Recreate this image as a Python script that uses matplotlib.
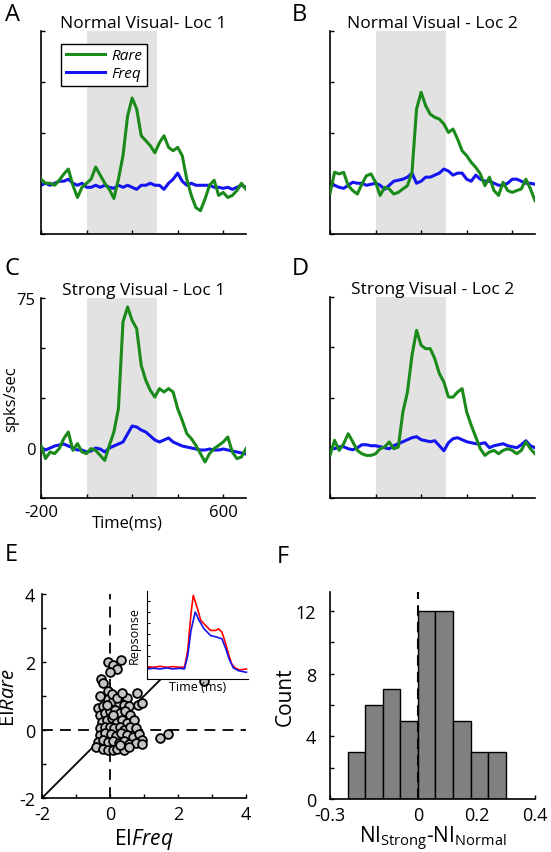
import numpy as np
import matplotlib
matplotlib.use("Agg")
import matplotlib.pyplot as plt

plt.rcParams['font.family'] = ['Open Sans', 'DejaVu Sans']
plt.rcParams['mathtext.fontset'] = 'custom'
plt.rcParams['mathtext.rm'] = 'Open Sans'
plt.rcParams['mathtext.it'] = 'Open Sans:italic'

# time axis of the PSTHs (ms)
t = np.arange(-200, 701, 20)

# A: normal visual, loc 1
a_rare = [2, 0, 0, -1, 1.5, 4.5, 7, -1, -7, -2, 0, 2, 8, 4, 0, -3, -7.5, 2, 13.6, 33,
          42, 36.6, 23.4, 21, 18.5, 15, 20, 23.4, 17.7, 16, 17.7, 13.6, 2, -6, -12, -13.5,
          -7.8, -1, 1.5, -6, -4.5, -7, -6, -3.6, 0, -3]
a_freq = [-1, 0, -1, 0, 1, 1, 2, 0, -1, 0, -2, -2, -1, -2, -1, -2, -2.5, -1, -2, -1,
          -2, -3, -1, -1, 0, -1, -1, -3, 0, 2, 5, 1, -1, 0, -1, -1, -1, -1, -2, -2,
          -2.5, -2, -3, -2, -1, -2]
# B: normal visual, loc 2
b_rare = [-5, 5.4, 4.6, 5.4, -1.2, -3.6, -5.3, -0.4, 3.7, 4.6, 0.5, -6, -2, -2.8, -5.3, -4.5,
          -2.8, -1.2, 5.4, 36.6, 44.8, 38.2, 34, 32.5, 31.6, 29.2, 25, 26.7, 21.8, 16, 13.6,
          10.3, 7.8, 4.6, -1.2, 3, -3.6, -6, 0.5, -3.6, -4.5, -3.6, -2.8, 2, -2.8, -8.6]
b_freq = [-1, -1, -2, -2.5, -1, 0.5, 0, 0, -1, -0.5, 0, -1, -3, -1, 1, 1.5, 2, 3, 5, 0,
          1, 3, 3, 4, 5, 7, 6, 4, 5, 5, 2, 1, 4, 2, 1, 1, 0, -1, -1, 0,
          2, 2, 1, 0, 0, -0.5]
# C: strong visual, loc 1
c_rare = [1.3, -5.3, -2, -2.8, -0.3, 4.7, 8, -1.2, 2.2, -2, -2.8, -0.3, -1.2, -3.7, -6.2, 1.3,
          8, 19.7, 63, 70.5, 63.8, 59.7, 41.3, 33.8, 28.8, 25.5, 29.7, 28, 29.7, 28, 19.7,
          13.8, 7.2, 4.7, 1.3, -2.8, -7, -2.8, -0.3, 1.3, 3, 5.5, -2, -5.3, -4.5, -0.3]
c_freq = [0, -1, 0, 1, 1.5, 2, 1, 0, -1, -1, -2, -1.5, 0, -0.5, -2, 0, 1, 2, 3, 7,
          11, 10.5, 9, 8, 6, 4, 3, 4, 5, 3, 2, 1, 0.5, 0, -0.5, -1, -1, -0.5, -1, -1,
          -0.5, -1, -1.5, -2, -2.5, -3]
# D: strong visual, loc 2
d_rare = [-3.8, 3.7, -1.3, 2, 7, 2.9, -1.3, -3, -3.8, -3.8, -3, -0.5, 0.4, 2.9, -0.5, 0.4,
          17.8, 27.7, 46, 58.4, 51, 49.3, 49.3, 44.3, 36.9, 32.7, 25.2, 25.2, 27.7, 29.4, 17.8,
          11.2, 5.3, -0.5, -3.8, -2.1, -1.3, -3, -1.3, -0.5, -1.3, -3, -1.3, 2.9, -0.5, -3]
d_freq = [0, -0.5, 0.5, 0.5, -0.5, -1, 0, 1.5, 1.5, 1, 1, 0.5, 0, -0.5, 1, 2, 3, 4, 5, 5.5,
          4, 3.5, 3, 3.5, 1, -1.5, 2.5, 4.5, 5, 4, 3, 2.5, 2, 2, 2.5, 0, 1, 1.5, 2, 1,
          0.5, 0, 1.5, 3.5, 1, 0]

panel_titles = ['Normal Visual- Loc 1', 'Normal Visual - Loc 2',
                'Strong Visual - Loc 1', 'Strong Visual - Loc 2']

# E: enhancement index scatter
ei_freq = [-0.07, 0.1, 0.2, 0.32, 0.0, -0.26, -0.22, -0.07, 0.78, 0.49, 0.83, 0.93, 1.46, 1.71, 2.75,
           -0.35, -0.2, -0.05, 0.1, 0.25, 0.4, 0.55, -0.3, -0.15, 0.0, 0.15, 0.3, 0.45, 0.6,
           -0.25, -0.1, 0.05, 0.2, 0.35, 0.5, 0.7, -0.3, -0.15, 0.0, 0.12, 0.28, 0.42, 0.58, 0.75,
           -0.3, -0.15, 0.02, 0.18, 0.33, 0.5, 0.68, 0.85, 0.95, -0.35, -0.2, -0.05, 0.1, 0.25,
           0.4, 0.55, 0.75, 0.95, -0.4, -0.2, -0.05, 0.1, 0.22, 0.4, 0.55, -0.3, 0.05, 0.2,
           -0.1, 0.35, 0.08, 0.3]
ei_rare = [2.0, 1.92, 1.8, 2.05, 1.7, 1.49, 1.37, 1.14, 1.09, 0.93, 0.75, 0.78, -0.24, -0.13, 1.45,
           0.65, 0.7, 0.9, 0.85, 0.8, 0.75, 0.7, 0.45, 0.5, 0.55, 0.6, 0.5, 0.55, 0.45,
           0.25, 0.3, 0.35, 0.25, 0.3, 0.2, 0.3, 0.05, 0.1, 0.1, 0.05, 0.08, 0.0, 0.1, 0.05,
           -0.15, -0.1, -0.12, -0.18, -0.1, -0.15, -0.2, -0.12, -0.3, -0.35, -0.3, -0.35, -0.32, -0.38,
           -0.32, -0.4, -0.38, -0.42, -0.5, -0.55, -0.6, -0.6, -0.55, -0.6, -0.5, 1.0, 1.05, 0.95,
           0.75, 1.1, 0.45, -0.45]

# E inset: population response
ins_t_red = [20, 40, 60, 80, 100, 120, 135, 145, 155, 162, 175, 185, 200, 215, 230, 240, 250,
             260, 270, 280, 290, 305, 325]
ins_red = [52, 50, 53, 50, 52, 50, 50, 100, 210, 265, 225, 190, 175, 160, 160, 165, 155,
           125, 90, 60, 48, 42, 45]
ins_t_blue = [20, 40, 60, 80, 100, 120, 135, 145, 155, 168, 180, 195, 215, 235, 250, 262,
              272, 285, 300, 325]
ins_blue = [45, 47, 45, 48, 45, 47, 45, 85, 160, 215, 190, 165, 145, 140, 135, 105,
            75, 48, 40, 35]

# F: histogram of NI difference
bin_edges = [-0.24, -0.18, -0.12, -0.06, 0.0, 0.06, 0.12, 0.18, 0.24, 0.30]
counts = [3, 6, 7, 5, 12, 12, 5, 3, 3]

green = '#1a8a1a'
blue = '#1414f0'

W, H = 551, 853
fig = plt.figure(figsize=(W / 100, H / 100), dpi=100)


def px_axes(l, t_, r, b):
    return fig.add_axes([l / W, 1 - b / H, (r - l) / W, (b - t_) / H])


def style(ax):
    for s in ['top', 'right']:
        ax.spines[s].set_visible(False)
    for s in ['left', 'bottom']:
        ax.spines[s].set_linewidth(1.2)
    ax.tick_params(direction='in', length=3, width=1, labelsize=12, pad=4)


boxes = [(41, 32, 246, 235), (330, 32, 535, 235), (41, 299, 246, 499), (330, 298, 535, 499)]
data = [(a_rare, a_freq), (b_rare, b_freq), (c_rare, c_freq), (d_rare, d_freq)]
for i, (box, (rare, freq)) in enumerate(zip(boxes, data)):
    ax = px_axes(*box)
    style(ax)
    ax.axvspan(0, 310, color='#e2e2e2', zorder=0, lw=0)
    ax.plot(t, freq, color=blue, lw=2.2, label='Freq', zorder=2)
    ax.plot(t, rare, color=green, lw=2.2, label='Rare', zorder=3)
    ax.set_xlim(-200, 700)
    ax.set_ylim(-25, 75)
    ax.set_xticks([-200, 0, 200, 400, 600])
    ax.set_yticks([-25, 0, 25, 50, 75])
    ax.set_title(panel_titles[i], fontsize=12.5, pad=1)
    if i == 2:
        ax.set_xticklabels(['-200', '', '', '', '600'])
        ax.set_yticklabels(['', '0', '', '', '75'])
        ax.text(180, -0.08, 'Time(ms)', transform=ax.get_xaxis_transform(),
                ha='center', va='top', fontsize=12)
        ax.set_ylabel('spks/sec', fontsize=12, labelpad=-2)
    else:
        ax.set_xticklabels([])
        ax.set_yticklabels([])
    if i == 0:
        h = ax.get_legend_handles_labels()[0]
        leg = ax.legend([h[1], h[0]], ['Rare', 'Freq'], loc='upper left',
                        bbox_to_anchor=(0.06, 0.975), fontsize=11, handlelength=2.6,
                        fancybox=False, edgecolor='black', framealpha=1,
                        borderpad=0.3, labelspacing=0.2, handletextpad=0.4)
        leg.get_frame().set_linewidth(1)
        for txt in leg.get_texts():
            txt.set_fontstyle('italic')

# E
axe = px_axes(42, 595, 246, 799)
style(axe)
axe.plot([-2, 4], [-2, 4], color='black', lw=1.3, zorder=1)
axe.axvline(0, color='black', lw=1.3, ls=(0, (6, 4)), zorder=1)
axe.axhline(0, color='black', lw=1.3, ls=(0, (6, 4)), zorder=1)
axe.scatter(ei_freq, ei_rare, s=40, facecolor='#c4c4c4', edgecolor='black',
            linewidth=1.3, zorder=3)
axe.set_xlim(-2, 4)
axe.set_ylim(-2, 4)
axe.set_xticks([-2, -1, 0, 1, 2, 3, 4])
axe.set_xticklabels(['-2', '', '0', '', '2', '', '4'])
axe.set_yticks([-2, -1, 0, 1, 2, 3, 4])
axe.set_yticklabels(['-2', '', '0', '', '2', '', '4'])
axe.tick_params(labelsize=13, pad=5)
axe.set_xlabel(r'EI$\mathit{Freq}$', fontsize=15, labelpad=2)
axe.set_ylabel(r'EI$\mathit{Rare}$', fontsize=14.5, labelpad=0)

ins = px_axes(147, 592, 248, 680)
ins.set_facecolor('white')
for s in ['top', 'right']:
    ins.spines[s].set_visible(False)
ins.plot(ins_t_red, ins_red, color='red', lw=1.2)
ins.plot(ins_t_blue, ins_blue, color=blue, lw=1.2)
ins.set_xlim(20, 330)
ins.set_ylim(15, 278)
ins.set_yticks([50, 83, 116, 149, 182, 215, 248])
ins.set_yticklabels([])
ins.set_xticks([])
ins.tick_params(direction='in', length=2)
ins.set_ylabel('Repsonse', fontsize=9, labelpad=1)
ins.set_xlabel('Time (ms)', fontsize=9, labelpad=1)

# F
axf = px_axes(330, 593, 535, 800)
style(axf)
axf.bar(bin_edges[:-1], counts, width=np.diff(bin_edges), align='edge',
        color='#808080', edgecolor='black', linewidth=1, zorder=2)
axf.axvline(0, color='black', lw=1.5, ls=(0, (5, 3)), zorder=3)
axf.set_xlim(-0.3, 0.4)
axf.set_ylim(0, 13.2)
axf.set_xticks([-0.3, 0, 0.2, 0.4])
axf.set_xticklabels(['-0.3', '0', '0.2', '0.4'])
axf.set_yticks([0, 2, 4, 6, 8, 10, 12])
axf.set_yticklabels(['0', '', '4', '', '8', '', '12'])
axf.tick_params(axis='x', labelsize=13, pad=5)
axf.tick_params(axis='y', labelsize=13, pad=10)
axf.set_ylabel('Count', fontsize=15, labelpad=0)
axf.set_xlabel(r'NI$_{\mathregular{Strong}}$-NI$_{\mathregular{Normal}}$', fontsize=15, labelpad=0)

for lab, x, y in [('A', 5, 3), ('B', 292, 3), ('C', 5, 257), ('D', 292, 257),
                  ('E', 5, 543), ('F', 277, 545)]:
    fig.text(x / W, 1 - y / H, lab, fontsize=17, va='top', ha='left')

fig.savefig('out.png', dpi=100)
